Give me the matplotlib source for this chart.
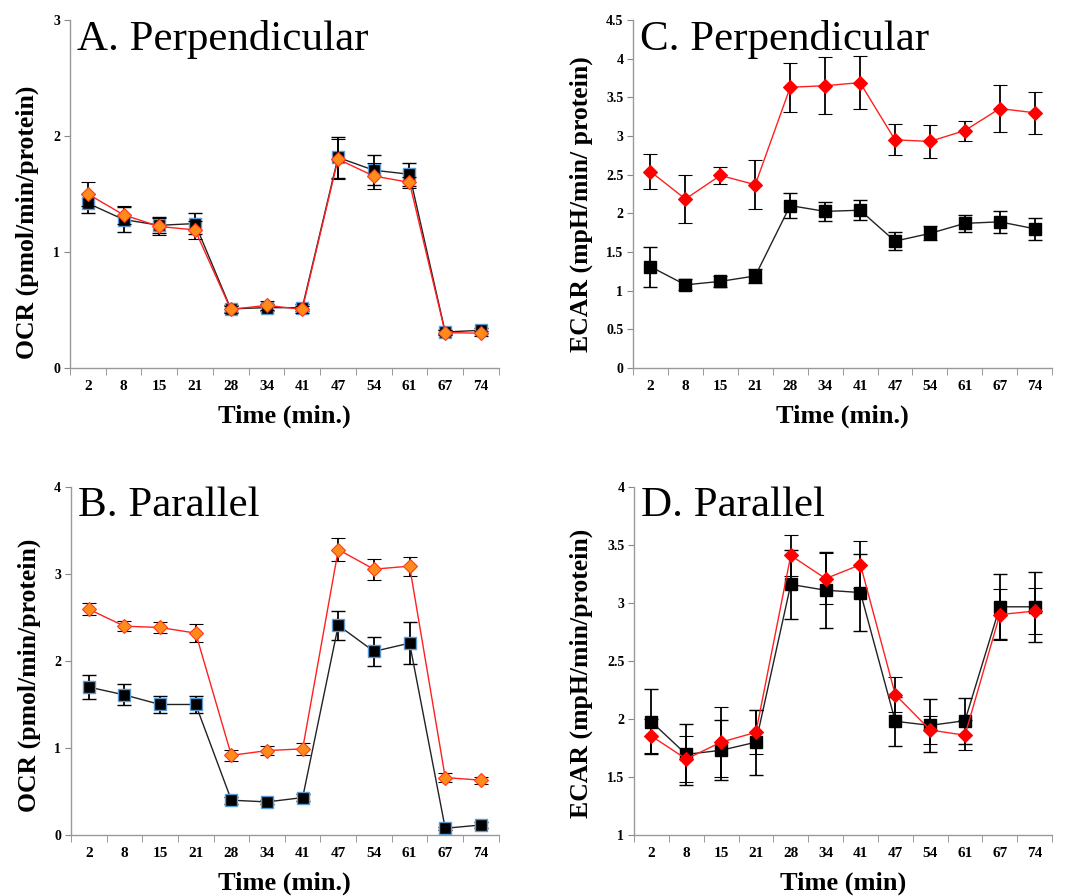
import matplotlib.pyplot as plt

plt.rcParams['font.family'] = ['Liberation Serif', 'DejaVu Serif']

times = ["2", "8", "15", "21", "28", "34", "41", "47", "54", "61", "67", "74"]

# A. Perpendicular OCR
a_black = [1.42, 1.28, 1.23, 1.245, 0.51, 0.52, 0.52, 1.815, 1.705, 1.67, 0.31, 0.325]
a_black_err = [0.08, 0.11, 0.07, 0.09, 0.03, 0.03, 0.03, 0.18, 0.13, 0.1, 0.02, 0.02]
a_orange = [1.50, 1.32, 1.22, 1.19, 0.505, 0.54, 0.505, 1.80, 1.655, 1.60, 0.305, 0.30]
a_orange_err = [0.1, 0.08, 0.07, 0.08, 0.03, 0.04, 0.03, 0.17, 0.11, 0.05, 0.02, 0.02]

# B. Parallel OCR
b_black = [1.70, 1.61, 1.50, 1.50, 0.40, 0.38, 0.43, 2.41, 2.11, 2.205, 0.077, 0.115]
b_black_err = [0.14, 0.12, 0.1, 0.1, 0.04, 0.02, 0.04, 0.17, 0.17, 0.24, 0.02, 0.03]
b_orange = [2.595, 2.40, 2.385, 2.32, 0.915, 0.97, 0.99, 3.28, 3.055, 3.09, 0.66, 0.63]
b_orange_err = [0.07, 0.06, 0.065, 0.1, 0.065, 0.05, 0.07, 0.13, 0.12, 0.11, 0.05, 0.04]

# C. Perpendicular ECAR
c_black = [1.31, 1.075, 1.12, 1.19, 2.10, 2.025, 2.04, 1.64, 1.74, 1.87, 1.89, 1.80]
c_black_err = [0.26, 0.07, 0.07, 0.09, 0.16, 0.12, 0.13, 0.12, 0.09, 0.11, 0.14, 0.14]
c_red = [2.54, 2.185, 2.49, 2.37, 3.63, 3.65, 3.69, 2.95, 2.93, 3.07, 3.355, 3.30]
c_red_err = [0.23, 0.31, 0.11, 0.32, 0.32, 0.37, 0.34, 0.2, 0.21, 0.13, 0.3, 0.27]

# D. Parallel ECAR
d_black = [1.976, 1.695, 1.73, 1.80, 3.16, 3.11, 3.09, 1.98, 1.945, 1.985, 2.967, 2.967]
d_black_err = [0.28, 0.26, 0.26, 0.28, 0.3, 0.33, 0.33, 0.21, 0.23, 0.2, 0.28, 0.3]
d_red = [1.853, 1.655, 1.80, 1.885, 3.41, 3.21, 3.33, 2.21, 1.905, 1.86, 2.90, 2.93]
d_red_err = [0.15, 0.2, 0.3, 0.19, 0.18, 0.22, 0.2, 0.15, 0.12, 0.13, 0.22, 0.2]

fig = plt.figure(figsize=(10.72, 8.96), dpi=100)

panels = [
    # rect, title, ylabel, ylabel pos, xlabel, ylim, yticks, black, berr, other, oerr, style
    ([0.0653, 0.5893, 0.400, 0.3884], "A. Perpendicular", "OCR (pmol/min/protein)", (-0.072, 0.42), "Time (min.)",
     (0, 3), [0, 1, 2, 3], a_black, a_black_err, a_orange, a_orange_err, "orange"),
    ([0.5905, 0.5893, 0.391, 0.3884], "C. Perpendicular", "ECAR (mpH/min/ protein)", (-0.096, 0.47), "Time (min.)",
     (0, 4.5), [0, 0.5, 1, 1.5, 2, 2.5, 3, 3.5, 4, 4.5], c_black, c_black_err, c_red, c_red_err, "red"),
    ([0.0662, 0.0681, 0.399, 0.3884], "B. Parallel", "OCR (pmol/min/protein)", (-0.071, 0.46), "Time (min.)",
     (0, 4), [0, 1, 2, 3, 4], b_black, b_black_err, b_orange, b_orange_err, "orange"),
    ([0.5914, 0.0681, 0.390, 0.3884], "D. Parallel", "ECAR (mpH/min/protein)", (-0.098, 0.463), "Time (min)",
     (1, 4), [1, 1.5, 2, 2.5, 3, 3.5, 4], d_black, d_black_err, d_red, d_red_err, "red"),
]

x = list(range(len(times)))

for rect, title, ylab, ylab_pos, xlab, ylim, yticks, blk, blk_err, oth, oth_err, style in panels:
    ax = fig.add_axes(rect)
    if style == "orange":
        sq_edge = "#5b9bd5"
        oth_face, oth_edge = "#ff8c1a", "#ff3b1a"
    else:
        sq_edge = "black"
        oth_face, oth_edge = "#ff0000", "#ff0000"

    ax.errorbar(x, blk, yerr=blk_err, color="#222222", lw=1.0, ecolor="black",
                elinewidth=1.3, capsize=5, capthick=1.3,
                marker="s", markersize=8, markerfacecolor="black",
                markeredgecolor=sq_edge, markeredgewidth=1.0, zorder=3)
    ax.errorbar(x, oth, yerr=oth_err, color="#ff2020", lw=1.0, ecolor="black",
                elinewidth=1.3, capsize=5, capthick=1.3,
                marker="D", markersize=7.5, markerfacecolor=oth_face,
                markeredgecolor=oth_edge, markeredgewidth=0.8, zorder=4)

    ax.set_xlim(-0.5, len(times) - 0.5)
    ax.set_ylim(*ylim)
    ax.set_yticks(yticks)
    ax.set_yticklabels([f"{t:g}" for t in yticks], fontsize=10, fontweight="bold")
    ax.set_xticks(x)
    ax.set_xticklabels(times, fontsize=11, fontweight="bold")
    ax.set_xticks([i - 0.5 for i in range(len(times) + 1)], minor=True)
    ax.tick_params(axis="x", which="major", length=0, pad=9)
    ax.tick_params(axis="x", which="minor", length=5, color="#888888", direction="out")
    ax.tick_params(axis="y", length=4, color="#888888", pad=3)

    for s in ["top", "right"]:
        ax.spines[s].set_visible(False)
    for s in ["left", "bottom"]:
        ax.spines[s].set_color("#999999")
        ax.spines[s].set_linewidth(1.0)

    ax.set_xlabel(xlab, fontsize=19, fontweight="bold", labelpad=8)
    ax.set_ylabel(ylab, fontsize=18.5, fontweight="bold")
    ax.yaxis.set_label_coords(*ylab_pos)
    ax.text(0.016, 1.0, title, transform=ax.transAxes, fontsize=31,
            ha="left", va="top")

fig.savefig("out.png", dpi=100)
